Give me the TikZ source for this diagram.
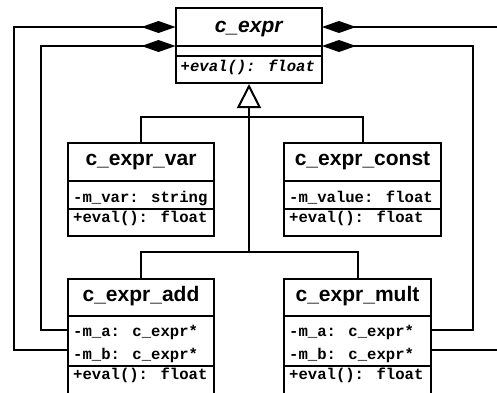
\documentclass[tikz,border=0pt]{standalone}
\usepackage{fontspec}
\usetikzlibrary{arrows.meta}
\newfontfamily\umlsans{Liberation Sans}
\newfontfamily\umlmono{Liberation Mono}
\tikzset{
  cbox/.style={draw=black, line width=2pt, fill=white, anchor=north west, inner sep=0pt, outer sep=0pt},
  cname/.style={anchor=base, inner sep=0pt, font=\umlsans\bfseries\fontsize{21}{25}\selectfont},
  cnamei/.style={cname, font=\umlsans\bfseries\itshape\fontsize{21}{25}\selectfont},
  cmono/.style={anchor=base west, inner sep=0pt, font=\umlmono\bfseries\fontsize{15.6}{18}\selectfont},
  cmonoi/.style={cmono, font=\umlmono\bfseries\itshape\fontsize{15.6}{18}\selectfont},
  link/.style={draw=black, line width=2pt},
  gen/.style={link, -{Triangle[open, length=24pt, width=24pt]}, shorten >=1pt},
  compo/.style={link, -{Diamond[length=34pt, width=12pt]}},
}
\begin{document}
\begin{tikzpicture}[x=1pt, y=-1pt]
\useasboundingbox (0,0) rectangle (497,392);
\clip (0,0) rectangle (497,392);
\fill[white] (0,0) rectangle (497,392);

% c_expr
\node[cbox, minimum width=146.5pt, minimum height=38pt] (topN) at (175.5,8) {};
\node[cbox, minimum width=146.5pt, minimum height=10pt] (topA) at (175.5,46) {};
\node[cbox, minimum width=146.5pt, minimum height=27pt] (topM) at (175.5,56) {};
\node[cnamei] (topNt) at (248.75,32) {c\_expr};
\node[cmonoi] (topMt) at (180.5,71) {+eval(): float};

% c_expr_var
\node[cbox, minimum width=146pt, minimum height=38pt] (varN) at (68,143) {};
\node[cbox, minimum width=146pt, minimum height=28pt] (varA) at (68,181) {};
\node[cbox, minimum width=146pt, minimum height=27pt] (varM) at (68,209) {};
\node[cname] (varNt) at (141,165.5) {c\_expr\_var};
\node[cmono] (varAt) at (73,202.5) {-m\_var: string};
\node[cmono] (varMt) at (73,222) {+eval(): float};

% c_expr_const
\node[cbox, minimum width=157pt, minimum height=38pt] (constN) at (284,143) {};
\node[cbox, minimum width=157pt, minimum height=28pt] (constA) at (284,181) {};
\node[cbox, minimum width=157pt, minimum height=27pt] (constM) at (284,209) {};
\node[cname] (constNt) at (362.5,165.5) {c\_expr\_const};
\node[cmono] (constAt) at (289,202.5) {-m\_value: float};
\node[cmono] (constMt) at (289,222) {+eval(): float};

% c_expr_add
\node[cbox, minimum width=146pt, minimum height=37pt] (addN) at (68,279) {};
\node[cbox, minimum width=146pt, minimum height=50pt] (addA) at (68,316) {};
\node[cbox, minimum width=146pt, minimum height=28pt] (addM) at (68,366) {};
\node[cname] (addNt) at (141,301.5) {c\_expr\_add};
\node[cmono] (addAt1) at (73,336) {-m\_a: c\_expr*};
\node[cmono] (addAt2) at (73,359) {-m\_b: c\_expr*};
\node[cmono] (addMt) at (73,379) {+eval(): float};

% c_expr_mult
\node[cbox, minimum width=147pt, minimum height=37pt] (multN) at (284,279) {};
\node[cbox, minimum width=147pt, minimum height=50pt] (multA) at (284,316) {};
\node[cbox, minimum width=147pt, minimum height=28pt] (multM) at (284,366) {};
\node[cname] (multNt) at (357.5,301.5) {c\_expr\_mult};
\node[cmono] (multAt1) at (289,336) {-m\_a: c\_expr*};
\node[cmono] (multAt2) at (289,359) {-m\_b: c\_expr*};
\node[cmono] (multMt) at (289,379) {+eval(): float};

% generalization
\coordinate (b1) at (249,117);
\coordinate (b2) at (249,252);
\draw[link] (varN.north) |- (b1) -| (constN.north);
\draw[link] (addN.north) |- (b2) -| (multN.north);
\draw[gen] (b2) -- (b2 |- topM.south);

% compositions
\coordinate (oL) at (14,27);
\coordinate (iL) at (41,46);
\coordinate (oR) at (510,27);
\coordinate (iR) at (473,46);
\draw[compo] ([yshift=-9pt]addA.west) -| (oL) -- (topN.west);
\draw[compo] ([yshift=11pt]addA.west) -| (iL) -- (topN.south west);
\draw[compo] ([yshift=-9pt]multA.east) -| (oR) -- (topN.east);
\draw[compo] ([yshift=11pt]multA.east) -| (iR) -- (topN.south east);
\end{tikzpicture}
\end{document}
